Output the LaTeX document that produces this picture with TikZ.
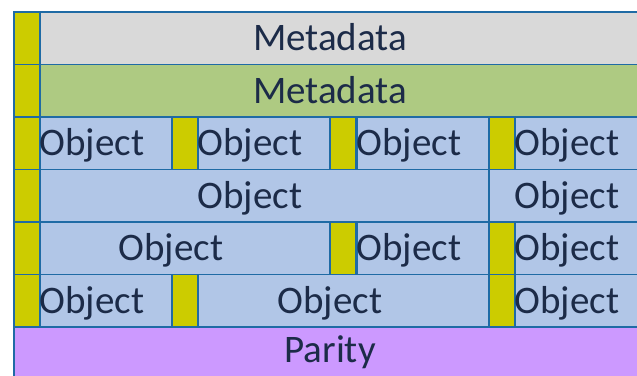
\documentclass[tikz,border=0pt]{standalone}
\usepackage{fontspec}
\setmainfont{Carlito}
\definecolor{edgeblue}{HTML}{1F6BA5}
\definecolor{inkblue}{HTML}{1C2B48}
\definecolor{metagray}{HTML}{D9D9D9}
\definecolor{metagreen}{HTML}{AECA82}
\definecolor{objblue}{HTML}{B1C6E7}
\definecolor{tagyellow}{HTML}{CCCC00}
\definecolor{paritypurple}{HTML}{CC99FF}
\tikzset{
  cell/.style={draw=edgeblue,line width=1.5pt,anchor=north west,inner sep=0pt,minimum height=52.5pt},
  objbox/.style={cell,fill=objblue},
  tagbox/.style={cell,fill=tagyellow,minimum width=26pt},
  word/.style={anchor=base,inner sep=0pt,text=inkblue,font=\fontsize{39}{40}\selectfont}
}

\begin{document}
\begin{tikzpicture}[x=1pt,y=-1pt]
\useasboundingbox (0,0) rectangle (637,375);
\clip (0,0) rectangle (637,375);

% metadata rows
\node[cell,fill=metagray,minimum width=611pt] (meta1) at (39,11) {};
\node[cell,fill=metagreen,minimum width=611pt] (meta2) at (39,63.5) {};

% object rows
\node[objbox,minimum width=132pt] (o31) at (39,116) {};
\node[objbox,minimum width=132pt] (o32) at (197,116) {};
\node[objbox,minimum width=132pt] (o33) at (356,116) {};
\node[objbox,minimum width=136pt] (o34) at (514,116) {};
\node[objbox,minimum width=449pt] (o41) at (39,168.5) {};
\node[objbox,minimum width=162pt] (o42) at (488,168.5) {};
\node[objbox,minimum width=290pt] (o51) at (39,221) {};
\node[objbox,minimum width=132pt] (o52) at (356,221) {};
\node[objbox,minimum width=136pt] (o53) at (514,221) {};
\node[objbox,minimum width=132pt] (o61) at (39,273.5) {};
\node[objbox,minimum width=291pt] (o62) at (197,273.5) {};
\node[objbox,minimum width=136pt] (o63) at (514,273.5) {};

% parity row
\node[cell,fill=paritypurple,minimum width=637pt,minimum height=60pt] (par) at (13,326) {};

% yellow tags
\foreach \n/\x/\y in {1/13/11,2/13/63.5,3/13/116,4/13/168.5,5/13/221,6/13/273.5,
                      31/171/116,32/329/116,33/488/116,
                      51/329/221,52/488/221,
                      61/171/273.5,62/488/273.5}
  \node[tagbox] (tag\n) at (\x,\y) {};

% labels
\node[word] (lm1) at (330,50.5) {Metadata};
\node[word] (lm2) at (330,103) {Metadata};
\foreach \n/\x/\y in {31/92/155.5,32/250/155.5,33/409/155.5,34/567/155.5,
                      41/250/208,42/567/208,
                      51/171/260.5,52/409/260.5,53/567/260.5,
                      61/92/313.5,62/330/313.5,63/567/313.5}
  \node[word] (lo\n) at (\x,\y) {Object};
\node[word] (lp) at (330,362) {Parity};
\end{tikzpicture}
\end{document}
